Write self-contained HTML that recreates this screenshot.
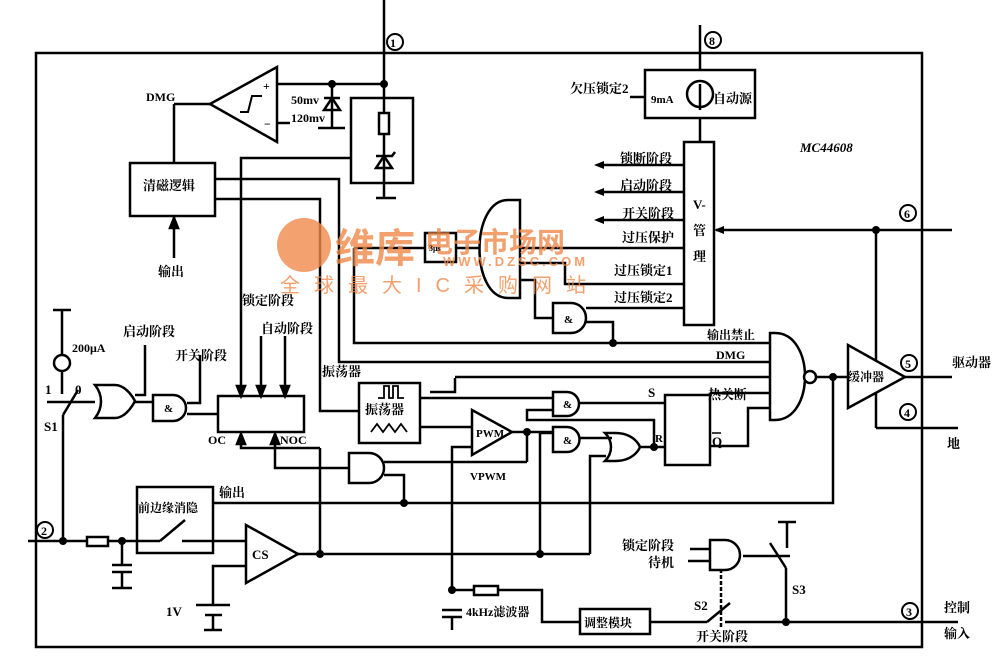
<!DOCTYPE html>
<html><head><meta charset="utf-8"><style>
html,body{margin:0;padding:0;background:#fff;}
svg{display:block;}
text{font-family:"Liberation Serif","Noto Serif CJK SC",serif;font-weight:bold;font-size:13px;fill:#000;}
.w{fill:#f08a4b;font-family:"Liberation Sans","Noto Sans CJK SC",sans-serif;}
</style></head><body>
<svg width="1000" height="658" viewBox="0 0 1000 658" xmlns="http://www.w3.org/2000/svg">
<g fill="none" stroke="#000" stroke-width="2.5">
<rect x="36" y="53" width="886" height="594"/>
<line x1="384" y1="0" x2="384" y2="198"/>
<line x1="277" y1="84" x2="384" y2="84"/>
<circle cx="395" cy="42" r="8" stroke-width="2"/>
<polygon points="210,104 277,67 277,142"/>
<path d="M240,112 h8 l4,-16 h10" stroke-width="2"/>
<line x1="277" y1="123" x2="290" y2="123"/>
<line x1="210" y1="104" x2="174" y2="104"/><line x1="174" y1="104" x2="174" y2="163"/>
<line x1="332" y1="84" x2="332" y2="128"/>
<polygon points="324,110 340,110 332,98"/><line x1="324" y1="98" x2="340" y2="98"/>
<line x1="318" y1="128" x2="345" y2="128"/>
<rect x="351" y="98" width="62" height="85"/>
<rect x="379" y="113" width="10" height="21" fill="#fff"/>
<polygon points="376,168 392,168 384,156"/><path d="M376,156 h16 l3,-4"/>
<line x1="376" y1="198" x2="396" y2="198"/>
<rect x="130" y="163" width="85" height="53"/>
<line x1="174" y1="216" x2="174" y2="258"/>
<polygon points="170,228 178,228 174,218" fill="#000"/>
<polyline points="215,179 339,179 339,362 770,362"/>
<polyline points="215,199 320,199 320,411 359,411"/>
<polyline points="351,158 241,158 241,394"/>
<polyline points="261,336 261,394"/><polyline points="285,336 285,394"/>
<polygon points="237,386 245,386 241,396" fill="#000"/><polygon points="257,386 265,386 261,396" fill="#000"/><polygon points="281,386 289,386 285,396" fill="#000"/>
<rect x="218" y="396" width="86" height="36"/>
<polygon points="237,444 245,444 241,434" fill="#000"/><polygon points="271,444 279,444 275,434" fill="#000"/>
<polyline points="241,434 241,448 320,448"/>
<polyline points="275,434 275,468 349,468"/>
<polyline points="354,248 354,343 770,343"/>
<rect x="425" y="233" width="31" height="29"/>
<line x1="354" y1="248" x2="425" y2="248"/><line x1="456" y1="248" x2="480" y2="248"/>
<path d="M520,200 h-12 c-38,0 -38,98 0,98 h12 z"/>
<line x1="520" y1="248" x2="683" y2="248"/>
<polyline points="520,263 565,263 565,284 683,284"/>
<polyline points="520,280 535,280 535,318 553,318"/>
<path d="M553,303 h18 a15,15 0 0 1 0,30 h-18 z"/>
<line x1="586" y1="308" x2="683" y2="308"/>
<polyline points="586,322 613,322 613,343"/>
<rect x="684" y="142" width="30" height="183"/>
<line x1="700" y1="25" x2="700" y2="70"/><line x1="700" y1="118" x2="700" y2="142"/>
<circle cx="713" cy="40" r="8" stroke-width="2"/>
<rect x="645" y="70" width="110" height="48"/>
<circle cx="700" cy="94" r="13"/><line x1="700" y1="84" x2="700" y2="110"/>
<line x1="630" y1="97" x2="645" y2="97"/>
<line x1="683" y1="165" x2="600" y2="165"/><line x1="683" y1="192" x2="600" y2="192"/><line x1="683" y1="220" x2="600" y2="220"/>
<line x1="716" y1="230" x2="952" y2="230"/>
<line x1="876" y1="230" x2="876" y2="428"/><line x1="876" y1="428" x2="958" y2="428"/>
<circle cx="908" cy="213" r="8" stroke-width="2"/>
<circle cx="909" cy="363" r="8" stroke-width="2"/>
<circle cx="908" cy="412" r="8" stroke-width="2"/>
<circle cx="910" cy="611" r="8" stroke-width="2"/>
<polygon points="848,345 848,408 905,377" fill="#fff"/>
<line x1="905" y1="377" x2="952" y2="377"/>
<path d="M770,333 h5 c40,0 40,87 0,87 h-5 z"/>
<circle cx="810" cy="377" r="6" fill="#fff"/>
<line x1="816" y1="377" x2="848" y2="377"/>
<polyline points="833,377 833,503 213,503"/>
<polyline points="455,378 455,392 430,392"/>
<line x1="455" y1="377" x2="770" y2="377"/>
<line x1="710" y1="393" x2="770" y2="393"/>
<polyline points="710,446 748,446 748,408 770,408"/>
<rect x="665" y="395" width="45" height="70"/>
<path d="M553,392 h14 a12,12 0 0 1 0,24 h-14 z"/>
<line x1="579" y1="403" x2="665" y2="403"/>
<line x1="420" y1="398" x2="553" y2="398"/>
<polyline points="553,410 527,410 527,420 654,420 654,447"/>
<path d="M553,427 h14 a12,12 0 0 1 0,25 h-14 z"/>
<line x1="579" y1="438" x2="612" y2="438"/>
<path d="M605,433 h10 c20,0 25,14 25,14 c0,0 -5,14 -25,14 h-10 c8,-8 8,-20 0,-28 z"/>
<line x1="640" y1="447" x2="665" y2="447"/>
<polyline points="540,554 540,433 553,433"/>
<polyline points="606,456 590,456 590,554"/>
<polygon points="472,410 472,455 512,432"/>
<polyline points="512,432 527,432 527,462"/>
<line x1="527" y1="432" x2="553" y2="432"/>
<line x1="420" y1="427" x2="472" y2="427"/>
<polyline points="472,447 452,447 452,590"/>
<rect x="359" y="383" width="61" height="60"/>
<path d="M378,398 h6 v-12 h5 v12 h4 v-12 h5 v12 h6" stroke-width="1.8"/>
<path d="M371,432 l6,-8 l6,8 l6,-8 l6,8 l6,-8 l6,8" stroke-width="1.8"/>
<path d="M349,453 h20 a15,15 0 0 1 0,30 h-20 z"/>
<line x1="384" y1="462" x2="527" y2="462"/>
<polyline points="384,475 404,475 404,503"/>
<polygon points="246,525 246,583 298,554"/>
<line x1="298" y1="554" x2="590" y2="554"/>
<line x1="320" y1="448" x2="320" y2="554"/>
<polyline points="246,566 213,566 213,605"/>
<line x1="196" y1="605" x2="230" y2="605"/><line x1="205" y1="615" x2="222" y2="615"/><line x1="213" y1="615" x2="213" y2="630"/><line x1="204" y1="630" x2="222" y2="630"/>
<line x1="28" y1="541" x2="87" y2="541"/>
<circle cx="45" cy="530" r="8" stroke-width="2"/>
<rect x="87" y="537" width="21" height="9"/>
<line x1="108" y1="541" x2="160" y2="541"/>
<line x1="122" y1="541" x2="122" y2="565"/><line x1="112" y1="565" x2="132" y2="565"/><line x1="112" y1="572" x2="132" y2="572"/><line x1="122" y1="572" x2="122" y2="588"/><line x1="112" y1="588" x2="132" y2="588"/>
<rect x="137" y="487" width="76" height="66"/>
<line x1="160" y1="541" x2="185" y2="520"/><line x1="182" y1="541" x2="246" y2="541"/>
<line x1="63" y1="541" x2="63" y2="415"/><line x1="63" y1="415" x2="78" y2="390"/>
<line x1="47" y1="402" x2="95" y2="402"/>
<line x1="62" y1="310" x2="62" y2="394"/><line x1="53" y1="310" x2="71" y2="310"/>
<circle cx="62" cy="363" r="8" fill="#fff"/>
<path d="M95,385 h20 c12,0 20,16 20,16 c0,0 -8,17 -20,17 h-20 c8,-10 8,-23 0,-33 z"/>
<polyline points="135,395 145,395 145,345"/>
<path d="M153,395 h20 a13,13 0 0 1 0,26 h-20 z"/>
<polyline points="187,403 200,403 200,355"/>
<line x1="187" y1="414" x2="218" y2="414"/>
<line x1="135" y1="402" x2="153" y2="402"/>
<line x1="452" y1="590" x2="474" y2="590"/>
<rect x="474" y="586" width="24" height="9"/>
<polyline points="498,590 542,590 542,622 580,622"/>
<line x1="442" y1="610" x2="462" y2="610"/><line x1="442" y1="617" x2="462" y2="617"/><line x1="452" y1="617" x2="452" y2="630"/>
<rect x="580" y="609" width="70" height="25"/>
<line x1="650" y1="622" x2="707" y2="622"/><line x1="725" y1="622" x2="958" y2="622"/>
<line x1="707" y1="622" x2="730" y2="603"/>
<line x1="721" y1="569" x2="721" y2="628" stroke-dasharray="4,2"/>
<path d="M710,540 h15 a15,15 0 0 1 0,30 h-15 z"/>
<line x1="690" y1="549" x2="710" y2="549"/><line x1="688" y1="561" x2="710" y2="561"/>
<line x1="743" y1="556" x2="790" y2="556"/>
<line x1="770" y1="543" x2="786" y2="568"/>
<line x1="786" y1="568" x2="786" y2="622"/>
<line x1="778" y1="522" x2="796" y2="522"/><line x1="787" y1="522" x2="787" y2="548"/>
</g>
<g fill="#000">
<circle cx="384" cy="84" r="4"/><circle cx="332" cy="84" r="4"/><circle cx="613" cy="343" r="4"/>
<circle cx="876" cy="230" r="4"/><circle cx="833" cy="377" r="4"/><circle cx="404" cy="503" r="4"/>
<circle cx="527" cy="432" r="4"/><circle cx="654" cy="447" r="4"/><circle cx="320" cy="554" r="4"/>
<circle cx="540" cy="554" r="4"/><circle cx="63" cy="541" r="4"/><circle cx="122" cy="541" r="4"/>
<circle cx="452" cy="590" r="4"/><circle cx="786" cy="622" r="4"/>
<polygon points="594,165 604,161 604,169"/><polygon points="594,192 604,188 604,196"/><polygon points="594,220 604,216 604,224"/>
<polygon points="714,230 724,226 724,234"/>
</g>
<circle cx="304" cy="245" r="27" fill="#f08a4b" opacity="0.8"/>
<text x="335" y="262" class="w" style="font-size:40px;opacity:.8">维库</text>
<text x="425" y="252" class="w" style="font-size:28px;opacity:.8">电子市场网</text>
<text x="443" y="266" class="w" style="font-size:13px;letter-spacing:3px;opacity:.8">WWW.DZSC.COM</text>
<text x="280" y="292" class="w" style="font-size:20px;letter-spacing:14px;opacity:.8;font-weight:normal">全球最大IC采购网站</text>
<text x="390" y="47" style="font-size:12px">1</text>
<text x="709" y="45" style="font-size:12px">8</text>
<text x="904" y="218" style="font-size:12px">6</text>
<text x="905" y="368" style="font-size:12px">5</text>
<text x="904" y="417" style="font-size:12px">4</text>
<text x="906" y="616" style="font-size:12px">3</text>
<text x="41" y="535" style="font-size:12px">2</text>
<text x="146" y="101" style="font-size:12px">DMG</text>
<text x="263" y="90" style="font-size:12px">+</text><text x="264" y="128" style="font-size:12px">−</text>
<text x="291" y="104" style="font-size:12px">50mv</text><text x="291" y="122" style="font-size:12px">120mv</text>
<text x="143" y="190">清磁逻辑</text>
<text x="158" y="276">输出</text>
<text x="242" y="305">锁定阶段</text>
<text x="261" y="333">自动阶段</text>
<text x="123" y="336">启动阶段</text>
<text x="175" y="360">开关阶段</text>
<text x="72" y="352" style="font-size:12px">200μA</text>
<text x="45" y="394">1</text><text x="75" y="394">0</text><text x="44" y="431">S1</text>
<text x="164" y="412" style="font-size:11px">&amp;</text>
<text x="208" y="444" style="font-size:12px">OC</text><text x="280" y="444" style="font-size:12px">NOC</text>
<text x="322" y="376">振荡器</text>
<text x="365" y="414">振荡器</text>
<text x="476" y="437" style="font-size:11px">PWM</text>
<text x="470" y="480" style="font-size:11px">VPWM</text>
<text x="219" y="497">输出</text>
<text x="138" y="512" style="font-size:12px">前边缘消隐</text>
<text x="252" y="559">CS</text>
<text x="166" y="616">1V</text>
<text x="466" y="616" style="font-size:12px">4kHz滤波器</text>
<text x="584" y="627" style="font-size:12px">调整模块</text>
<text x="622" y="550">锁定阶段</text>
<text x="648" y="567">待机</text>
<text x="694" y="610">S2</text><text x="792" y="594">S3</text>
<text x="696" y="641">开关阶段</text>
<text x="944" y="612">控制</text><text x="944" y="638">输入</text>
<text x="952" y="367">驱动器</text><text x="947" y="448">地</text>
<text x="848" y="381" style="font-size:12px">缓冲器</text>
<text x="707" y="339" style="font-size:12px">输出禁止</text>
<text x="716" y="359" style="font-size:12px">DMG</text>
<text x="708" y="399">热关断</text>
<text x="648" y="397">S</text>
<text x="655" y="442" style="font-size:11px">R</text>
<text x="712" y="446">Q</text><line x1="712" y1="433" x2="721" y2="433" stroke="#000" stroke-width="1.5"/>
<text x="563" y="408" style="font-size:11px">&amp;</text><text x="563" y="444" style="font-size:11px">&amp;</text>
<text x="564" y="323" style="font-size:11px">&amp;</text>
<text x="429" y="251" style="font-size:8px">3μs</text>
<text x="620" y="163">锁断阶段</text>
<text x="620" y="190">启动阶段</text>
<text x="622" y="218">开关阶段</text>
<text x="622" y="242">过压保护</text>
<text x="614" y="275">过压锁定1</text>
<text x="614" y="302">过压锁定2</text>
<text x="693" y="209">V-</text><text x="693" y="235">管</text><text x="693" y="261">理</text>
<text x="570" y="93">欠压锁定2</text>
<text x="651" y="103" style="font-size:11px">9mA</text>
<text x="713" y="103">自动源</text>
<text x="800" y="152" style="font-style:italic">MC44608</text>
</svg>
</body></html>
